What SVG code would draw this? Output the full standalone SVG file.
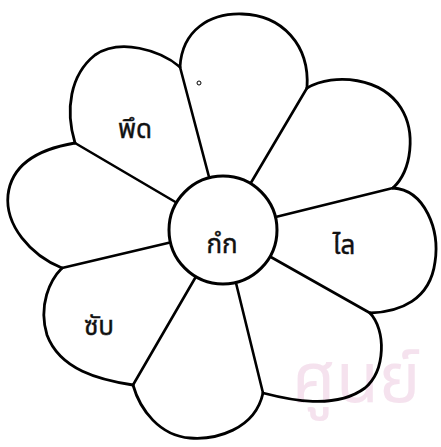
<svg xmlns="http://www.w3.org/2000/svg" width="441" height="447" viewBox="0 0 441 447">
<style>
.bg{fill:#ffffff}
.petal{fill:none;stroke:#000;stroke-width:2.8;stroke-linecap:round;stroke-linejoin:round}
.ray{stroke:#000;stroke-width:2.6;stroke-linecap:round}
.hub{fill:#fff;stroke:#000;stroke-width:3}
.lbl{font-family:"Noto Sans Thai","Noto Serif Thai","Loma","Garuda","Norasi",sans-serif;font-size:26px;fill:#111;text-anchor:middle;stroke:#111;stroke-width:0.4}
.wm{font-family:"Noto Sans Thai","Loma",sans-serif;font-size:70px;fill:#f3dcea;opacity:0.8}
</style>
<rect class="bg" x="0" y="0" width="441" height="447"/>
<text class="wm" x="292" y="402">ศูนย์</text>
<g id="connectors">
<line class="ray" x1="180" y1="67" x2="223" y2="230"/>
<line class="ray" x1="307" y1="88" x2="223" y2="230"/>
<line class="ray" x1="393" y1="188" x2="223" y2="230"/>
<line class="ray" x1="370" y1="313" x2="223" y2="230"/>
<line class="ray" x1="263" y1="393" x2="223" y2="230"/>
<line class="ray" x1="133" y1="385" x2="223" y2="230"/>
<line class="ray" x1="62" y1="268" x2="223" y2="230"/>
<line class="ray" x1="75" y1="143" x2="223" y2="230"/>
</g>
<g id="petal-top">
<path class="petal" d="M180,67 C182,30 210,13 242,14 C282,15 310,45 307,88"/>
<circle cx="199" cy="83" r="2" fill="none" stroke="#000" stroke-width="1"/>
</g>
<g id="petal-upper-right">
<path class="petal" d="M307,88 C335,72 382,78 401,108 C416,132 412,170 393,188"/>
</g>
<g id="petal-right">
<path class="petal" d="M393,188 C425,190 440,230 435,262 C430,300 400,312 370,313"/>
<text class="lbl" x="344" y="254">ไล</text>
</g>
<g id="petal-lower-right">
<path class="petal" d="M370,313 C386,330 386,370 365,388 C335,410 290,400 263,393"/>
</g>
<g id="petal-bottom">
<path class="petal" d="M263,393 C255,430 215,440 190,438 C160,436 140,410 133,385"/>
</g>
<g id="petal-lower-left">
<path class="petal" d="M133,385 C100,380 60,370 47,335 C38,305 50,280 62,268"/>
<text class="lbl" x="99" y="335">ซับ</text>
</g>
<g id="petal-left">
<path class="petal" d="M62,268 C30,255 5,225 8,195 C12,160 45,148 75,143"/>
</g>
<g id="petal-upper-left">
<path class="petal" d="M75,143 C65,110 70,75 95,55 C120,38 160,50 180,67"/>
<text class="lbl" x="135" y="138">พึด</text>
</g>
<g id="center">
<circle class="hub" cx="223" cy="230" r="54"/>
<text class="lbl" x="222" y="253">กํก</text>
</g>
</svg>
